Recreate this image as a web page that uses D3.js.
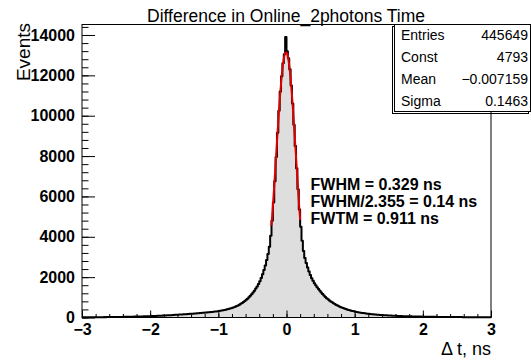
<!DOCTYPE html>
<html><head><meta charset="utf-8">
<script src="https://cdn.jsdelivr.net/npm/d3@7"></script>
<style>
html,body{margin:0;padding:0;background:#fff;}
svg{display:block;font-family:"Liberation Sans",Arial,sans-serif;}
</style></head>
<body><svg id="c" width="531" height="363"></svg>
<script>
// ---- data ----
const title = "Difference in Online_2photons Time";
const xLabel = "\u0394 t, ns";
const yLabel = "Events";
const binLow = -3, binHigh = 3, binWidth = 0.02;
const counts = [
  12,11,13,12,14,13,12,13,15,14,
  16,15,15,16,18,17,19,18,20,21,
  22,21,24,23,26,25,27,28,30,29,
  32,33,35,34,37,38,41,40,44,45,
  47,48,51,52,55,56,58,60,63,64,
  68,70,74,75,80,81,86,88,92,95,
  99,101,106,109,114,117,122,126,131,134,
  139,143,148,152,157,161,166,171,176,181,
  186,190,196,201,207,212,218,224,230,236,
  243,249,256,263,270,278,286,294,303,312,
  322,333,345,358,372,388,404,422,441,462,
  485,510,538,568,600,638,680,724,770,820,
  875,935,1000,1072,1150,1238,1330,1432,1540,1665,
  1800,1960,2140,2350,2580,2850,3150,3500,4050,4800,
  5700,6750,7950,9150,10250,11200,11950,12600,13050,13900,
  13200,12850,12300,11500,10600,9550,8500,7400,6350,5350,
  4500,3800,3300,2950,2700,2480,2280,2100,1950,1820,
  1700,1600,1500,1410,1320,1240,1160,1090,1020,960,
  900,845,795,750,705,665,625,590,555,525,
  495,468,442,418,396,375,356,338,320,304,
  289,275,262,250,238,227,217,207,198,189,
  181,173,166,159,152,146,140,134,129,124,
  119,114,110,106,102,98,94,91,88,85,
  82,79,76,73,71,68,66,64,62,60,
  58,56,54,52,51,49,48,46,45,43,
  42,41,40,38,37,36,35,34,33,32,
  31,30,29,28,28,27,26,25,25,24,
  23,23,22,21,21,20,20,19,19,18,
  18,17,17,16,16,15,15,15,14,14,
  13,13,13,12,12,12,11,11,11,10
];
const fitX = [-0.22,-0.20,-0.18,-0.16,-0.14,-0.12,-0.10,-0.08,-0.06,-0.04,-0.02,0.00,0.02,0.04,0.06,0.08,0.10,0.12,0.14,0.16,0.18,0.20];
const fitY = [4557,5510,6536,7611,8699,9759,10745,11610,12315,12820,13098,13135,12928,12489,11840,11019,10065,9022,7937,6855,5810,4834];
const xTicks = [-3,-2,-1,0,1,2,3];
const xTickLabels = ["\u22123","\u22122","\u22121","0","1","2","3"];
const yTicks = [0,2000,4000,6000,8000,10000,12000,14000];
const statNames = ["Entries","Const","Mean","Sigma"];
const statValues = ["445649","4793","\u22120.007159","0.1463"];
const notes = ["FWHM = 0.329 ns","FWHM/2.355 = 0.14 ns","FWTM = 0.911 ns"];

// ---- scales ----
const svg = d3.select("#c");
const x = d3.scaleLinear().domain([-3,3]).range([82,491]);
const y = d3.scaleLinear().domain([0,14520]).range([317.5,24.5]);

// histogram
const bins = counts.map((c,i)=>({lo:binLow+i*binWidth, hi:binLow+(i+1)*binWidth, v:c}));
const pts = [[x(binLow), y(0)]];
bins.forEach(b=>{pts.push([x(b.lo),y(b.v)]); pts.push([x(b.hi),y(b.v)]);});
pts.push([x(binHigh), y(0)]);
const line = d3.line();
svg.append("path").attr("d", line(pts)+"Z").attr("fill","#dedede").attr("stroke","none");
svg.append("path").attr("d", line(pts.slice(1,-1))).attr("fill","none").attr("stroke","#000").attr("stroke-width",2).attr("stroke-linejoin","round");

// fit
svg.append("path")
  .attr("d", d3.line().curve(d3.curveMonotoneX).x((d,i)=>x(fitX[i])).y(d=>y(d))(fitY))
  .attr("fill","none").attr("stroke","#e00000").attr("stroke-width",2);

// axes
const xMinor = d3.range(-3,3.0001,0.2).map(v=>+v.toFixed(2));
const yMinor = d3.range(0,14520,400);
const gx = svg.append("g").attr("transform","translate(0,317.5)");
gx.call(d3.axisBottom(x).tickValues(xMinor).tickSize(-3.5).tickFormat(""));
gx.call(g=>g.select(".domain").remove());
const gx2 = svg.append("g").attr("transform","translate(0,317.5)");
gx2.call(d3.axisBottom(x).tickValues(xTicks).tickSize(-7).tickPadding(6).tickFormat((d,i)=>xTickLabels[i]));
gx2.select(".domain").remove();
gx2.selectAll("text").attr("font-size",16).attr("font-weight","bold").attr("font-family","Liberation Sans, Arial, sans-serif").attr("fill","#000");

const gy = svg.append("g").attr("transform","translate(82,0)");
gy.call(d3.axisLeft(y).tickValues(yMinor).tickSize(-6.5).tickFormat(""));
gy.select(".domain").remove();
const gy2 = svg.append("g").attr("transform","translate(82,0)");
gy2.call(d3.axisLeft(y).tickValues(yTicks).tickSize(-13).tickPadding(7).tickFormat(d3.format("d")));
gy2.select(".domain").remove();
gy2.selectAll("text").attr("font-size",16).attr("font-weight","bold").attr("font-family","Liberation Sans, Arial, sans-serif").attr("fill","#000");
svg.selectAll(".tick line").attr("stroke","#000");

// frame
svg.append("rect").attr("x",82).attr("y",24.5).attr("width",409).attr("height",293).attr("fill","none").attr("stroke","#000").attr("stroke-width",1);

// title
svg.append("text").attr("x",286).attr("y",21.5).attr("text-anchor","middle").attr("font-size",17.5).text(title);
// axis titles
svg.append("text").attr("x",491).attr("y",355).attr("text-anchor","end").attr("font-size",18).text(xLabel);
svg.append("text").attr("transform","translate(30,23) rotate(-90)").attr("text-anchor","end").attr("font-size",19).text(yLabel);

// stats box
svg.append("rect").attr("x",392.5).attr("y",26.5).attr("width",136).attr("height",87).attr("fill","none").attr("stroke","#000");
svg.append("rect").attr("x",394.5).attr("y",24.5).attr("width",136).attr("height",87).attr("fill","#fff").attr("stroke","#000");
const rowY = [40,62,84,106];
statNames.forEach((n,i)=>{
  svg.append("text").attr("x",401).attr("y",rowY[i]).attr("font-size",14).text(n);
  svg.append("text").attr("x",528).attr("y",rowY[i]).attr("text-anchor","end").attr("font-size",14).text(statValues[i]);
});

// notes
const noteY = [190,207,224];
notes.forEach((t,i)=>{
  svg.append("text").attr("x",310.5).attr("y",noteY[i]).attr("font-size",16).attr("font-weight","bold").text(t);
});
</script></body></html>
